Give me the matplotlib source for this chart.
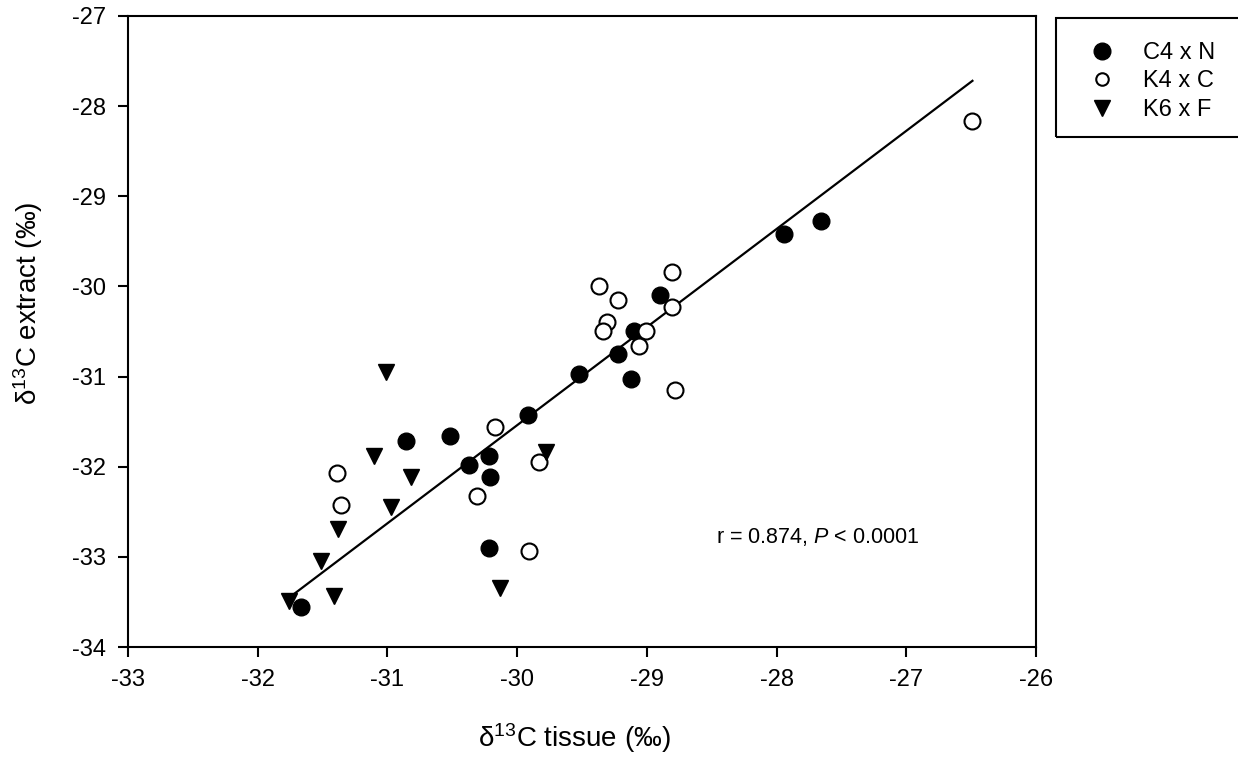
import numpy as np
import matplotlib
matplotlib.use("Agg")
import matplotlib.pyplot as plt
from matplotlib.patches import Rectangle
from matplotlib.lines import Line2D

plt.rcParams['font.family'] = ['Liberation Sans', 'DejaVu Sans']
plt.rcParams['mathtext.fontset'] = 'custom'
plt.rcParams['mathtext.rm'] = 'Liberation Sans'
plt.rcParams['mathtext.it'] = 'Liberation Sans:italic'
plt.rcParams['mathtext.default'] = 'regular'

# C4 x N (filled circles)
c4n_x = [-31.67, -30.86, -30.52, -30.37, -30.22, -30.21, -30.22, -29.92, -29.52,
         -29.22, -29.12, -29.10, -28.90, -27.94, -27.66]
c4n_y = [-33.56, -31.71, -31.66, -31.98, -31.88, -32.11, -32.90, -31.43, -30.97,
         -30.75, -31.03, -30.49, -30.09, -29.42, -29.27]
# K4 x C (open circles)
k4c_x = [-31.39, -31.36, -30.17, -30.31, -29.83, -29.91, -29.37, -29.22, -29.31,
         -29.34, -29.01, -29.06, -28.81, -28.81, -28.78, -26.49]
k4c_y = [-32.07, -32.43, -31.56, -32.32, -31.95, -32.93, -29.99, -30.15, -30.39,
         -30.49, -30.49, -30.66, -29.84, -30.23, -31.15, -28.17]
# K6 x F (triangles)
k6f_x = [-31.01, -31.10, -30.82, -30.97, -31.38, -31.51, -31.41, -31.76, -30.13, -29.78]
k6f_y = [-30.95, -31.88, -32.11, -32.45, -32.69, -33.05, -33.43, -33.49, -33.34, -31.84]

series_labels = ['C4 x N', 'K4 x C', 'K6 x F']
stat_text = r'r = 0.874, $\mathit{P}$ < 0.0001'
x_ticks = [-33, -32, -31, -30, -29, -28, -27, -26]
y_ticks = [-34, -33, -32, -31, -30, -29, -28, -27]

W, H = 1238, 761
fig = plt.figure(figsize=(W / 100, H / 100), dpi=100)
ax = fig.add_axes([128 / W, 1 - 647 / H, (1036 - 128) / W, (647 - 16) / H])

# reduced major axis regression over all points
all_x = np.array(c4n_x + k4c_x + k6f_x)
all_y = np.array(c4n_y + k4c_y + k6f_y)
r = np.corrcoef(all_x, all_y)[0, 1]
slope = np.sign(r) * all_y.std() / all_x.std()
intercept = all_y.mean() - slope * all_x.mean()
xx = np.array([all_x.min(), all_x.max()])
ax.plot(xx, slope * xx + intercept, color='black', lw=1.6, zorder=1)

ax.plot(c4n_x, c4n_y, 'o', ms=12, mfc='black', mec='black', ls='none', zorder=3)
ax.plot(k4c_x, k4c_y, 'o', ms=11.5, mfc='white', mec='black', mew=1.5, ls='none', zorder=3)
ax.plot(k6f_x, k6f_y, 'v', ms=12, mfc='black', mec='black', ls='none', zorder=3)

ax.set_xlim(-33, -26)
ax.set_ylim(-34, -27)
ax.set_xticks(x_ticks)
ax.set_yticks(y_ticks)
ax.set_xticklabels([str(t) for t in x_ticks])
ax.set_yticklabels([str(t) for t in y_ticks])
ax.tick_params(direction='out', length=7, width=1.5, labelsize=17,
               top=False, right=False)
ax.tick_params(axis='x', pad=9)
ax.tick_params(axis='y', pad=9)
for s in ax.spines.values():
    s.set_linewidth(1.5)

ax.set_xlabel('δ$^{13}$C tissue (‰)', fontsize=20)
ax.set_ylabel('δ$^{13}$C extract (‰)', fontsize=20)
ax.xaxis.set_label_coords(0.492, -0.118)
ax.yaxis.set_label_coords(-0.0914, 0.545)

ax.text(-28.47, -32.78, stat_text, fontsize=15.5, va='center', ha='left')

# legend
fig.patches.append(Rectangle((1056 / W, 1 - 137 / H), 200 / W, 119 / H,
                             transform=fig.transFigure, fill=False,
                             edgecolor='black', linewidth=1.5))
handles = [
    Line2D([], [], marker='o', ms=12, mfc='black', mec='black', ls='none'),
    Line2D([], [], marker='o', ms=9, mfc='white', mec='black', mew=1.5, ls='none'),
    Line2D([], [], marker='v', ms=11, mfc='black', mec='black', ls='none'),
]
leg = fig.legend(handles, series_labels, loc='upper left',
                 bbox_to_anchor=(1076 / W, 1 - 30 / H), frameon=False,
                 fontsize=17, handletextpad=1.14, labelspacing=0.28,
                 handlelength=1.2, borderpad=0)

fig.savefig('out.png', dpi=100)
